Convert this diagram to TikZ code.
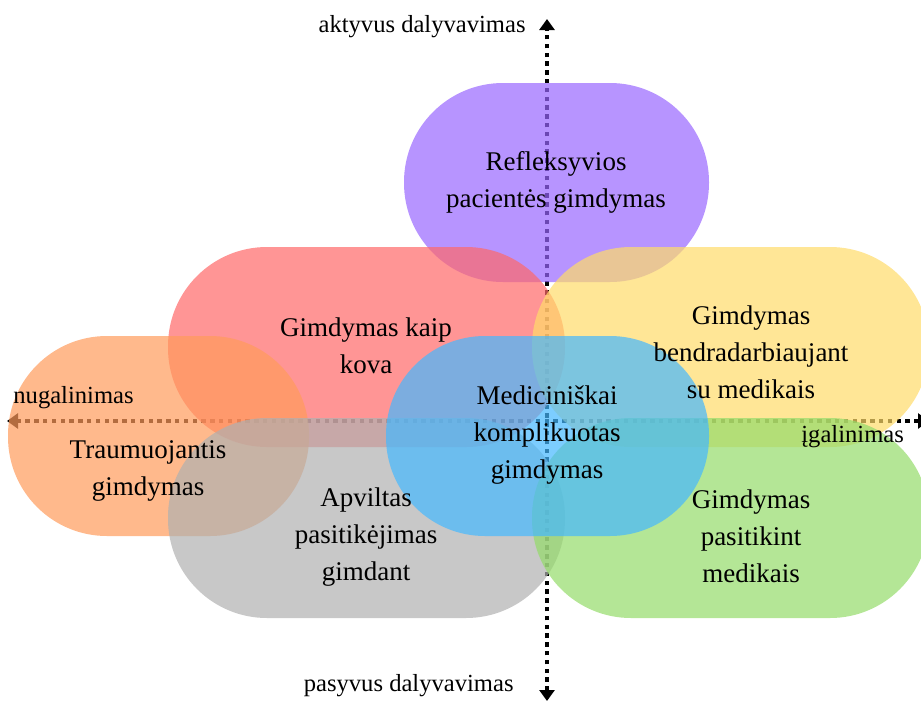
\documentclass[tikz,border=0pt]{standalone}
\usepackage{fontspec}
\setmainfont{Liberation Serif}
\usetikzlibrary{arrows.meta}

\definecolor{reflcol}{HTML}{9966FF}
\definecolor{kovacol}{HTML}{FF6868}
\definecolor{bendrcol}{HTML}{FFDB69}
\definecolor{traumcol}{HTML}{FF9B5B}
\definecolor{apviltcol}{HTML}{B0B0B0}
\definecolor{pasitcol}{HTML}{94DB69}
\definecolor{mediccol}{HTML}{45B8FF}

\tikzset{
  blob/.style={rounded corners=49.5pt, fill opacity=0.7, minimum height=100pt, inner sep=0pt},
  axisline/.style={line width=2pt, dash pattern=on 2.2pt off 2.2pt,
    {Triangle[width=7.5pt,length=5.5pt]}-{Triangle[width=7.5pt,length=5.5pt]}},
  blobtext/.style={align=center, font=\fontsize{13.5}{18.5}\selectfont},
  axislabel/.style={font=\fontsize{12.3}{15}\selectfont, inner sep=0pt}
}

\begin{document}
\begin{tikzpicture}[x=0.5pt,y=-0.5pt]
\useasboundingbox (0,0) rectangle (921,702);

% axes
\coordinate (top) at (547,19);
\coordinate (bottom) at (547,701);
\coordinate (left) at (7,421);
\coordinate (right) at (929,421);
\draw[axisline] (bottom) -- (top);
\draw[axisline] (right) -- (left);

% fields
\node[blob, fill=reflcol, minimum width=152.5pt, minimum height=99.5pt] (refl) at (556.5,182.5) {};
\node[blob, fill=kovacol, minimum width=198.5pt] (kova) at (366.5,347) {};
\node[blob, fill=bendrcol, minimum width=198.5pt] (bendr) at (730.5,347) {};
\node[blob, fill=traumcol, minimum width=150.5pt] (traum) at (158.5,436) {};
\node[blob, fill=apviltcol, minimum width=198.5pt] (apvilt) at (366.5,518) {};
\node[blob, fill=pasitcol, minimum width=198.5pt] (pasit) at (730.5,518) {};
\node[blob, fill=mediccol, minimum width=161.5pt] (medic) at (547.5,436) {};

% texts
\node[blobtext] (trefl) at (556,182) {Refleksyvios\\pacientės gimdymas};
\node[blobtext] (tkova) at (366,346) {Gimdymas kaip\\kova};
\node[blobtext] (tbendr) at (751,352) {Gimdymas\\bendradarbiaujant\\su medikais};
\node[blobtext] (ttraum) at (148,471) {Traumuojantis\\gimdymas};
\node[blobtext] (tapvilt) at (366,537) {Apviltas\\pasitikėjimas\\gimdant};
\node[blobtext] (tpasit) at (751,536) {Gimdymas\\pasitikint\\medikais};
\node[blobtext] (tmedic) at (547,435) {Mediciniškai\\komplikuotas\\gimdymas};

\node[axislabel, anchor=east] (aktyv) at (526,27) {aktyvus dalyvavimas};
\node[axislabel, anchor=east] (pasyv) at (514,686) {pasyvus dalyvavimas};
\node[axislabel, anchor=west] (nugal) at (13,398) {nugalinimas};
\node[axislabel, anchor=west] (igal) at (801,437) {įgalinimas};
\end{tikzpicture}
\end{document}
